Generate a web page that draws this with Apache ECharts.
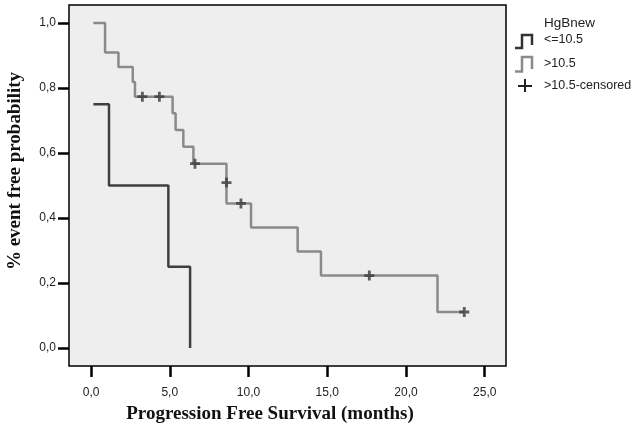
<!DOCTYPE html>
<html><head><meta charset="utf-8">
<script src="https://cdn.jsdelivr.net/npm/echarts@6/dist/echarts.min.js"></script>
<style>html,body{margin:0;padding:0;background:#fff}#c{width:636px;height:427px}</style>
</head><body><div id="c"></div>
<script>
// Kaplan-Meier data
const lowTimes = [0.15, 1.14, 4.91, 6.29];
const lowSurv  = [0.75, 0.50, 0.25, 0.0];
const highTimes = [0.15, 0.89, 1.74, 2.65, 2.79, 5.18, 5.37, 5.86, 6.5, 8.6, 8.6, 10.16, 13.12, 14.6, 22.0, 23.7];
const highSurv  = [1.0, 0.909, 0.864, 0.818, 0.773, 0.722, 0.671, 0.619, 0.567, 0.509, 0.445, 0.371, 0.297, 0.223, 0.111, 0.111];
const censTimes = [3.26, 4.34, 6.6, 8.6, 9.52, 17.67, 23.7];
const censSurv  = [0.773, 0.773, 0.567, 0.509, 0.445, 0.223, 0.111];
const xTicks = [0, 5, 10, 15, 20, 25];
const yTicks = [0, 0.2, 0.4, 0.6, 0.8, 1.0];
const legendTitle = 'HgBnew';
const legendNames = ['<=10.5', '>10.5', '>10.5-censored'];
const xTitle = 'Progression Free Survival (months)';
const yTitle = '% event free probability';

const zip = (a, b) => a.map((v, i) => [v, b[i]]);
const fmt = v => v.toFixed(1).replace('.', ',');
const DARK = '#3f3f3f', GREY = '#8a8a8a';
const plusPath = 'path://M3.6,0 L6.4,0 L6.4,3.6 L10,3.6 L10,6.4 L6.4,6.4 L6.4,10 L3.6,10 L3.6,6.4 L0,6.4 L0,3.6 L3.6,3.6 Z';

const chart = echarts.init(document.getElementById('c'), null, {renderer: 'canvas'});
chart.setOption({
  animation: false,
  grid: {left: 69, right: 130, top: 5, bottom: 61, show: true, backgroundColor: '#eeeeee', borderColor: '#000', borderWidth: 1.5},
  xAxis: {
    type: 'value', min: -1.4, max: 26.35,
    axisLine: {show: false, onZero: false}, splitLine: {show: false},
    axisTick: {show: true, inside: false, customValues: xTicks, length: 11, lineStyle: {color: '#000', width: 2.5}},
    axisLabel: {customValues: xTicks, formatter: fmt, margin: 21, color: '#222', fontFamily: 'Liberation Sans, Arial', fontSize: 12}
  },
  yAxis: {
    type: 'value', min: -0.055, max: 1.055,
    axisLine: {show: false, onZero: false}, splitLine: {show: false},
    axisTick: {show: true, inside: false, customValues: yTicks, length: 11, lineStyle: {color: '#000', width: 2.5}},
    axisLabel: {customValues: yTicks, formatter: fmt, margin: 13, color: '#222', fontFamily: 'Liberation Sans, Arial', fontSize: 12}
  },
  series: [
    {name: legendNames[0], type: 'line', step: 'end', symbol: 'none', data: zip(lowTimes, lowSurv), lineStyle: {color: DARK, width: 2.5}},
    {name: legendNames[1], type: 'line', step: 'end', symbol: 'none', data: zip(highTimes, highSurv), lineStyle: {color: GREY, width: 2.5}},
    {name: legendNames[2], type: 'scatter', symbol: plusPath, symbolSize: 10, data: zip(censTimes, censSurv), itemStyle: {color: '#383838'}, z: 5}
  ],
  graphic: [
    {type: 'text', x: 15, y: 171, rotation: Math.PI / 2, style: {text: yTitle, font: 'bold 19px "Liberation Serif", "Times New Roman", serif', fill: '#111', align: 'center', verticalAlign: 'middle'}},
    {type: 'text', x: 270, y: 414, style: {text: xTitle, font: 'bold 19px "Liberation Serif", "Times New Roman", serif', fill: '#111', align: 'center', verticalAlign: 'middle'}},
    {type: 'text', x: 544, y: 23, style: {text: legendTitle, font: '13.5px "Liberation Sans", Arial', fill: '#222', verticalAlign: 'middle'}},
    {type: 'polyline', shape: {points: [[515, 48], [522, 48], [522, 35], [532, 35], [532, 45]]}, style: {stroke: '#333', lineWidth: 2.5, fill: null}},
    {type: 'text', x: 544, y: 40, style: {text: legendNames[0], font: '12.5px "Liberation Sans", Arial', fill: '#222', verticalAlign: 'middle'}},
    {type: 'polyline', shape: {points: [[515, 71.5], [522, 71.5], [522, 57], [532, 57], [532, 69]]}, style: {stroke: GREY, lineWidth: 2.5, fill: null}},
    {type: 'text', x: 544, y: 63.5, style: {text: legendNames[1], font: '12.5px "Liberation Sans", Arial', fill: '#222', verticalAlign: 'middle'}},
    {type: 'line', shape: {x1: 518, y1: 86, x2: 532, y2: 86}, style: {stroke: '#222', lineWidth: 2}},
    {type: 'line', shape: {x1: 525, y1: 79, x2: 525, y2: 92}, style: {stroke: '#222', lineWidth: 2}},
    {type: 'text', x: 544, y: 86, style: {text: legendNames[2], font: '12.5px "Liberation Sans", Arial', fill: '#222', verticalAlign: 'middle'}}
  ]
});
</script></body></html>
